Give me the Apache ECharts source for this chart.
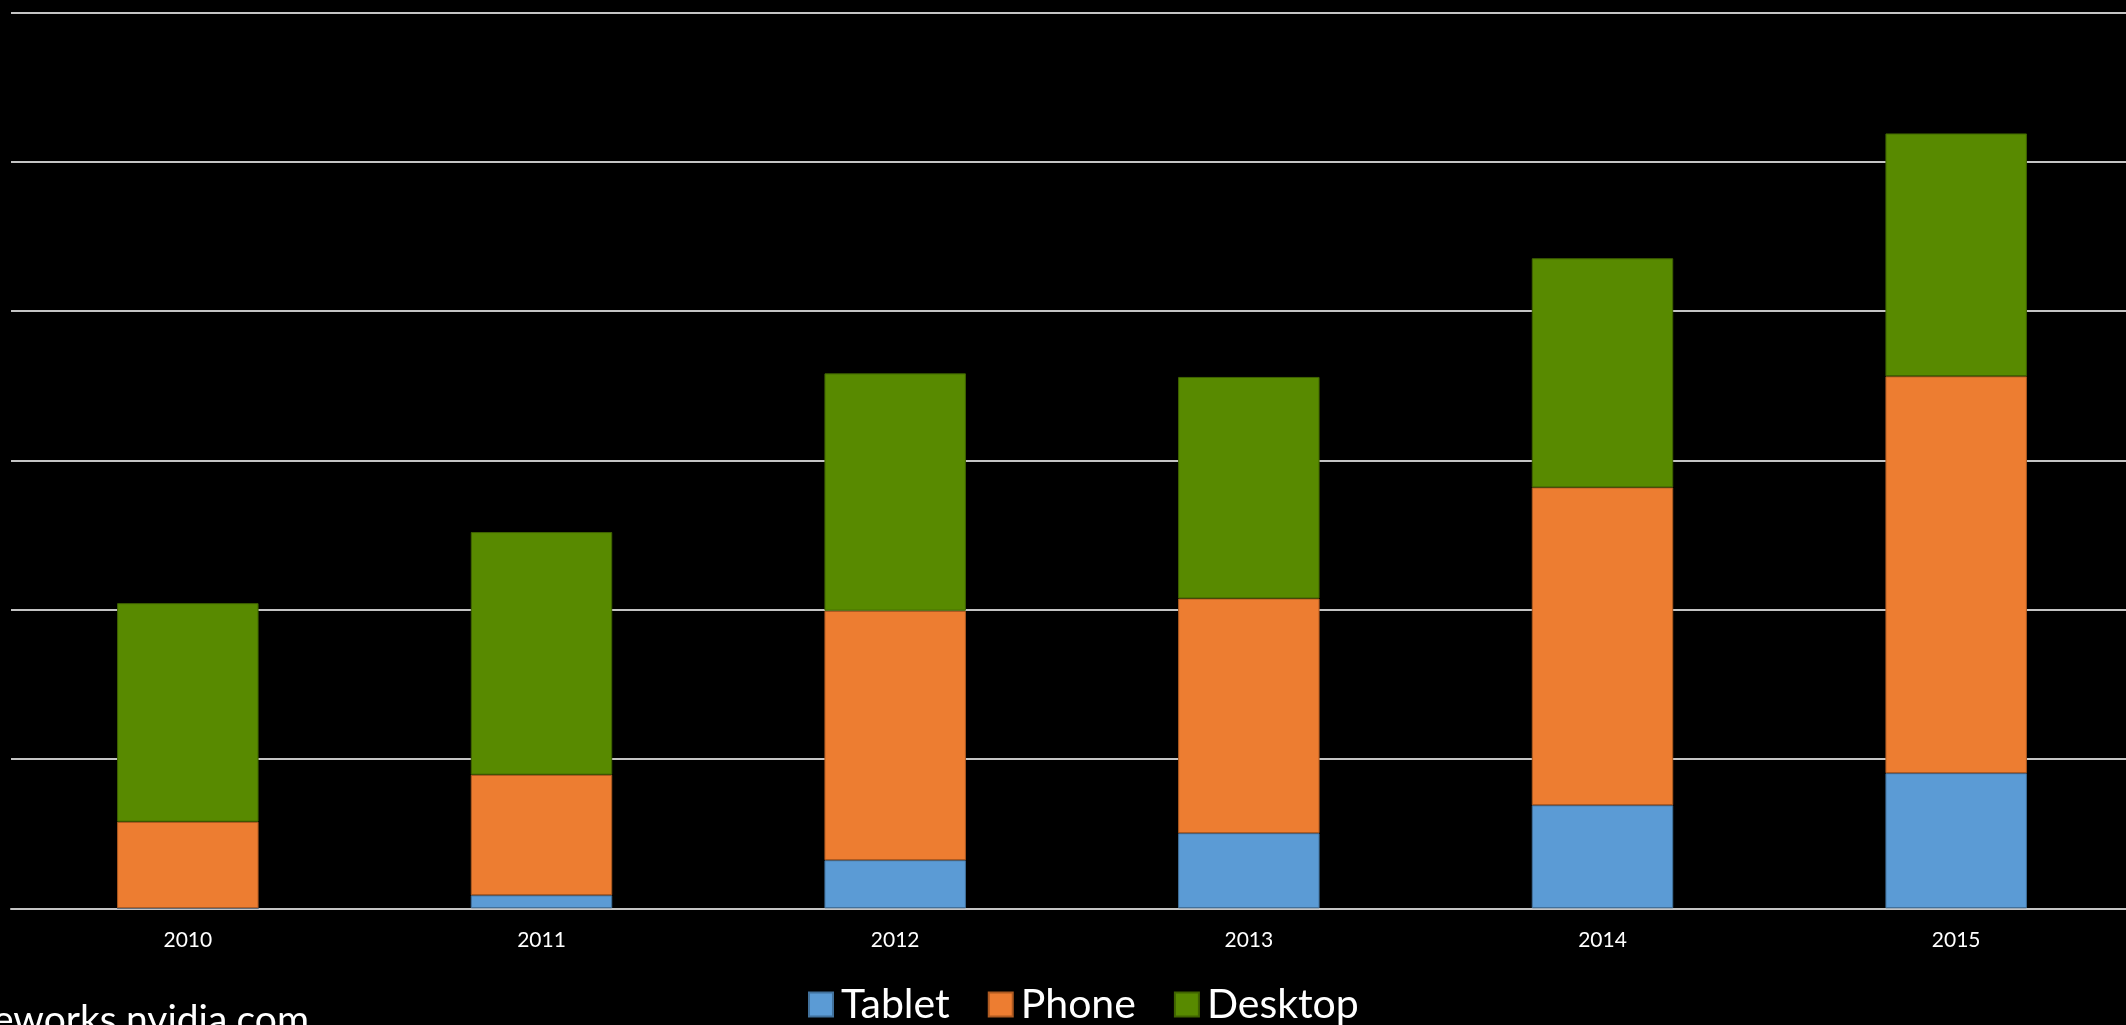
<!DOCTYPE html>
<html>
<head>
<meta charset="utf-8">
<style>
  html, body { margin: 0; padding: 0; background: #000; overflow: hidden; }
  #chart { width: 2140px; height: 1025px; }
</style>
<script src="https://cdn.jsdelivr.net/npm/echarts@6/dist/echarts.min.js"></script>
</head>
<body>
<div id="chart"></div>
<script>
// Years on the category axis
const years = ['2010', '2011', '2012', '2013', '2014', '2015'];

// Stacked segment sizes per year (in gridline units)
const tablet  = [0.000, 0.087, 0.322, 0.503, 0.690, 0.905];
const phone   = [0.580, 0.808, 1.671, 1.572, 2.129, 2.658];
const desktop = [1.464, 1.625, 1.590, 1.484, 1.535, 1.627];

const seriesNames = ['Tablet', 'Phone', 'Desktop'];
const footerText = 'eworks.nvidia.com';

const colors = ['#5B9BD5', '#ED7D31', '#588A00'];
const borders = ['#41719C', '#AE5A21', '#3F6300'];
const font = 'Lato, "Noto Sans", sans-serif';

const chart = echarts.init(document.getElementById('chart'), null, { renderer: 'canvas' });

const seriesData = [tablet, phone, desktop];

chart.setOption({
  backgroundColor: '#000000',
  animation: false,
  // the plot runs slightly past the right edge of the window
  grid: { left: 11, top: 12.5, width: 2122, height: 895.8, containLabel: false },
  xAxis: {
    type: 'category',
    data: years,
    boundaryGap: true,
    axisLine: { show: true, lineStyle: { color: '#c4c4c4', width: 2 } },
    axisTick: { show: false },
    axisLabel: { color: '#ffffff', fontSize: 21, fontFamily: font, margin: 21 }
  },
  yAxis: {
    type: 'value',
    min: 0,
    max: 6,
    interval: 1,
    axisLine: { show: false },
    axisTick: { show: false },
    axisLabel: { show: false },
    splitLine: { show: true, lineStyle: { color: '#c4c4c4', width: 2 } }
  },
  legend: {
    data: seriesNames,
    left: 808,
    top: 984,
    padding: 0,
    icon: 'rect',
    itemWidth: 24,
    itemHeight: 24,
    itemGap: 38,
    textStyle: { color: '#ffffff', fontSize: 41, fontFamily: font, padding: [0, 0, 0, 3] }
  },
  graphic: [{
    type: 'text',
    right: 2140 - 309,
    top: 1001,
    style: { text: footerText, fill: '#ffffff', font: '39px ' + font }
  }],
  series: seriesNames.map((name, i) => ({
    name: name,
    type: 'bar',
    stack: 'total',
    barWidth: '40%',
    data: seriesData[i],
    itemStyle: { color: colors[i], borderColor: borders[i], borderWidth: 1 }
  }))
});
</script>
</body>
</html>
